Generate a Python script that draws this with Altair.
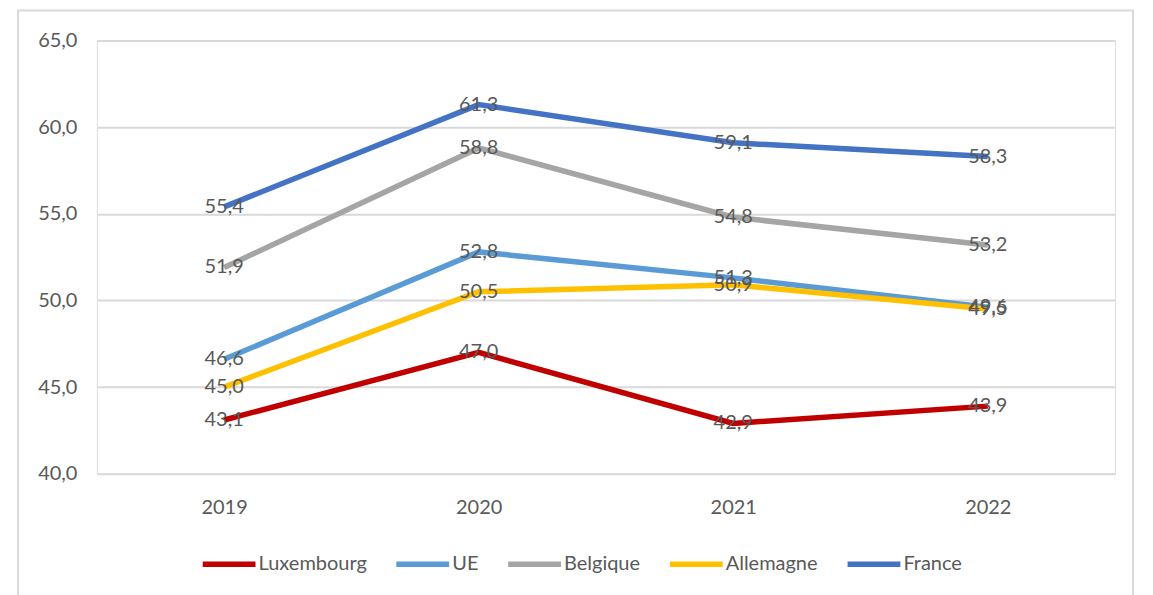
import altair as alt
import pandas as pd

years = ["2019", "2020", "2021", "2022"]
series = ["Luxembourg", "UE", "Belgique", "Allemagne", "France"]
colors = ["#C00000", "#5B9BD5", "#A5A5A5", "#FFC000", "#4472C4"]
luxembourg = [43.1, 47.0, 42.9, 43.9]
ue = [46.6, 52.8, 51.3, 49.6]
belgique = [51.9, 58.8, 54.8, 53.2]
allemagne = [45.0, 50.5, 50.9, 49.5]
france = [55.4, 61.3, 59.1, 58.3]

vals = [luxembourg, ue, belgique, allemagne, france]
rows = []
for i, (s, v) in enumerate(zip(series, vals)):
    for y, x in zip(years, v):
        rows.append({"annee": y, "pays": s, "valeur": x, "ordre": i})
df = pd.DataFrame(rows)

FONT = "Lato"
TXT = "#595959"
FS = 20

base = alt.Chart(df).encode(
    x=alt.X("annee:O", scale=alt.Scale(type="point", padding=0.5),
            axis=alt.Axis(title=None, labelAngle=0, domain=False, ticks=False,
                          labelPadding=24, labelFontSize=FS, labelColor=TXT, labelFont=FONT)),
    y=alt.Y("valeur:Q", scale=alt.Scale(domain=[40, 65], nice=False, zero=False),
            axis=alt.Axis(title=None, values=[40, 45, 50, 55, 60, 65], domain=False, ticks=False,
                          labelPadding=20, labelFontSize=FS, labelColor=TXT, labelFont=FONT,
                          gridColor="#D9D9D9", gridWidth=2,
                          labelExpr="replace(format(datum.value, '.1f'), '.', ',')")),
)

lines = base.mark_line(strokeWidth=5.5).encode(
    color=alt.Color("pays:N", scale=alt.Scale(domain=series, range=colors),
                    sort=series,
                    legend=alt.Legend(title=None, orient="none", direction="horizontal",
                                      legendX=103, legendY=495,
                                      symbolType="stroke", symbolSize=2800, symbolStrokeWidth=5.5,
                                      labelFontSize=FS, labelColor=TXT, labelFont=FONT,
                                      labelOffset=0, columnPadding=18)),
    order=alt.Order("ordre:Q"),
    detail="pays:N",
)

labels = base.transform_calculate(
    lab="replace(format(datum.valeur, '.1f'), '.', ',')"
).mark_text(fontSize=FS, color=TXT, font=FONT, baseline="middle", align="center").encode(
    text="lab:N"
)

frame = alt.Chart(pd.DataFrame({"a": [0]})).mark_rect(
    fill=None, stroke="#D9D9D9", strokeWidth=2, clip=False
).encode(x=alt.value(-79), x2=alt.value(1038), y=alt.value(-30), y2=alt.value(620))

chart = alt.layer(frame, lines, labels).properties(
    width=1020, height=434,
    autosize=alt.AutoSizeParams(type="none"),
    padding={"left": 89, "top": 32, "right": 30, "bottom": 140},
).configure_view(stroke=None).configure(font=FONT)

chart.save("out.html", embed_options={"renderer": "svg", "actions": False})
